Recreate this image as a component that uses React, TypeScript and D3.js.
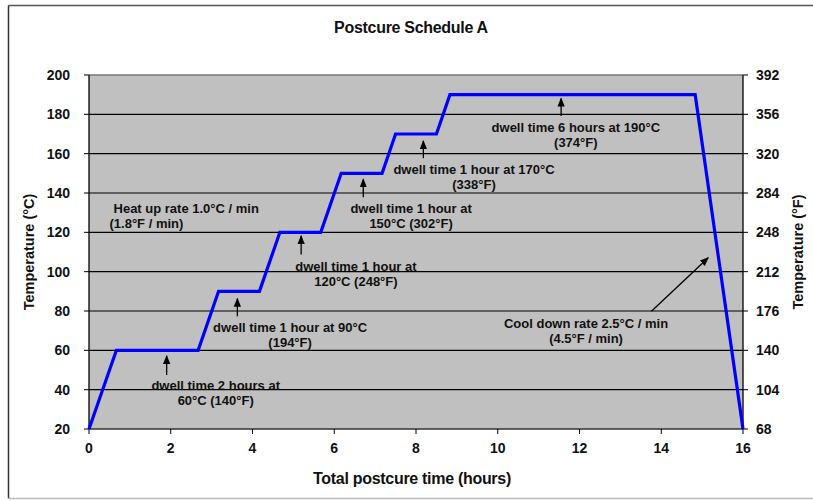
import React, { useEffect } from "react";
import * as d3 from "d3";

// ---- Data ----
const hours = [0, 0.67, 2.67, 3.17, 4.17, 4.67, 5.67, 6.17, 7.17, 7.5, 8.5, 8.83, 14.83, 16];
const tempC = [20, 60, 60, 90, 90, 120, 120, 150, 150, 170, 170, 190, 190, 20];
const xTicks = [0, 2, 4, 6, 8, 10, 12, 14, 16];
const yTicksC = [20, 40, 60, 80, 100, 120, 140, 160, 180, 200];
const yTicksF = [68, 104, 140, 176, 212, 248, 284, 320, 356, 392];

// annotation texts and anchor (data units: hours, °C)
const noteLines = [
  ["dwell time 2 hours at", "60°C (140°F)"],
  ["dwell time 1 hour at 90°C", "(194°F)"],
  ["dwell time 1 hour at", "120°C (248°F)"],
  ["dwell time 1 hour at", "150°C (302°F)"],
  ["dwell time 1 hour at 170°C", "(338°F)"],
  ["dwell time 6 hours at 190°C", "(374°F)"],
  ["Cool down rate 2.5°C / min", "(4.5°F / min)"],
];
const noteX = [3.1, 4.92, 6.53, 7.88, 9.42, 11.91, 12.16];
const noteY = [41.9, 71.5, 102.6, 132.2, 152.1, 173.5, 73.5];
// small up-arrows: x, tail, tip
const arrowX = [1.9, 3.63, 5.19, 6.71, 8.18, 11.55];
const arrowTail = [47.5, 77.3, 108.7, 137.8, 157.7, 179.2];
const arrowTip = [57.2, 86.3, 118.2, 147, 166.5, 188.1];
const heatLines = ["Heat up rate 1.0°C / min", "(1.8°F / min)"];
const heatPos = [0.6, 132.2];
const coolArrow = [13.76, 79.9, 15.15, 107.1];

const FONT = "'Liberation Sans', Arial, sans-serif";

export default function App() {
  useEffect(() => {
    document.body.style.margin = "0";
  }, []);

  const W = 813, H = 501;
  const x = d3.scaleLinear().domain([0, 16]).range([89, 743]);
  const y = d3.scaleLinear().domain([20, 200]).range([429, 75]);
  const yF = d3.scaleLinear().domain([68, 392]).range([429, 75]);
  const line = d3
    .line<number>()
    .x((_, i) => x(hours[i]))
    .y((d) => y(d));

  const txt = { fontFamily: FONT, fontWeight: 700, fill: "#111" } as const;

  return (
    <svg width={W} height={H} style={{ display: "block" }}>
      <defs>
        <marker id="ah" viewBox="0 0 10 10" refX="9" refY="5" markerWidth="7" markerHeight="7" orient="auto">
          <path d="M0,1 L10,5 L0,9 Z" fill="#000" />
        </marker>
      </defs>
      <rect x={0} y={0} width={W} height={H} fill="#fff" />
      {/* outer frame */}
      <line x1={8.5} y1={5.5} x2={W} y2={5.5} stroke="#555" strokeWidth={1.5} />
      <line x1={8.5} y1={5.5} x2={8.5} y2={498.5} stroke="#333" strokeWidth={1.5} />
      <line x1={8.5} y1={498.5} x2={W} y2={498.5} stroke="#bbb" strokeWidth={1.5} />

      {/* title */}
      <text x={411} y={33} textAnchor="middle" fontSize={16} letterSpacing={-0.3} {...txt}>
        Postcure Schedule A
      </text>

      {/* plot area */}
      <rect x={x(0)} y={y(200)} width={x(16) - x(0)} height={y(20) - y(200)} fill="#c0c0c0" />
      {yTicksC.slice(1, -1).map((t) => (
        <line key={t} x1={x(0)} x2={x(16)} y1={y(t)} y2={y(t)} stroke="#000" strokeWidth={1.2} />
      ))}
      <line x1={x(0)} x2={x(16)} y1={y(200)} y2={y(200)} stroke="#777" strokeWidth={1.5} />

      {/* axes */}
      <line x1={x(0)} x2={x(0)} y1={y(200)} y2={y(20)} stroke="#000" strokeWidth={1.3} />
      <line x1={x(16)} x2={x(16)} y1={y(200)} y2={y(20)} stroke="#000" strokeWidth={1.3} />
      <line x1={x(0)} x2={x(16)} y1={y(20)} y2={y(20)} stroke="#333" strokeWidth={1.3} />
      {yTicksC.map((t) => (
        <g key={"l" + t}>
          <line x1={x(0) - 5} x2={x(0)} y1={y(t)} y2={y(t)} stroke="#000" />
          <text x={x(0) - 19} y={y(t) + 5} textAnchor="end" fontSize={14} {...txt}>
            {t}
          </text>
        </g>
      ))}
      {yTicksF.map((t) => (
        <g key={"r" + t}>
          <line x1={x(16)} x2={x(16) + 5} y1={yF(t)} y2={yF(t)} stroke="#000" />
          <text x={x(16) + 13} y={yF(t) + 5} textAnchor="start" fontSize={14} {...txt}>
            {t}
          </text>
        </g>
      ))}
      {xTicks.map((t) => (
        <g key={"x" + t}>
          <line x1={x(t)} x2={x(t)} y1={y(20)} y2={y(20) + 5} stroke="#000" />
          <text x={x(t)} y={y(20) + 24} textAnchor="middle" fontSize={14} {...txt}>
            {t}
          </text>
        </g>
      ))}

      {/* axis titles */}
      <text transform={`translate(34,${(y(20) + y(200)) / 2}) rotate(-90)`} textAnchor="middle" fontSize={14.5} {...txt}>
        Temperature (°C)
      </text>
      <text transform={`translate(803,${(y(20) + y(200)) / 2}) rotate(-90)`} textAnchor="middle" fontSize={14.5} {...txt}>
        Temperature (°F)
      </text>
      <text x={412} y={484} textAnchor="middle" fontSize={16} letterSpacing={-0.3} {...txt}>
        Total postcure time (hours)
      </text>

      {/* schedule line */}
      <path d={line(tempC) || ""} fill="none" stroke="#0000ff" strokeWidth={3.2} strokeLinejoin="miter" />

      {/* annotations */}
      {noteLines.map((ls, i) => (
        <text key={"n" + i} textAnchor="middle" fontSize={13} {...txt}>
          {ls.map((l, j) => (
            <tspan key={j} x={x(noteX[i])} y={y(noteY[i]) + 4.5 + j * 15}>
              {l}
            </tspan>
          ))}
        </text>
      ))}
      <text textAnchor="start" fontSize={13} {...txt}>
        {heatLines.map((l, j) => (
          <tspan key={j} x={x(heatPos[0]) - j * 4} y={y(heatPos[1]) + 4.5 + j * 15}>
            {l}
          </tspan>
        ))}
      </text>
      {arrowX.map((ax, i) => (
        <line
          key={"a" + i}
          x1={x(ax)}
          x2={x(ax)}
          y1={y(arrowTail[i])}
          y2={y(arrowTip[i])}
          stroke="#000"
          strokeWidth={1.3}
          markerEnd="url(#ah)"
        />
      ))}
      <line
        x1={x(coolArrow[0])}
        y1={y(coolArrow[1])}
        x2={x(coolArrow[2])}
        y2={y(coolArrow[3])}
        stroke="#000"
        strokeWidth={1.3}
        markerEnd="url(#ah)"
      />
    </svg>
  );
}
